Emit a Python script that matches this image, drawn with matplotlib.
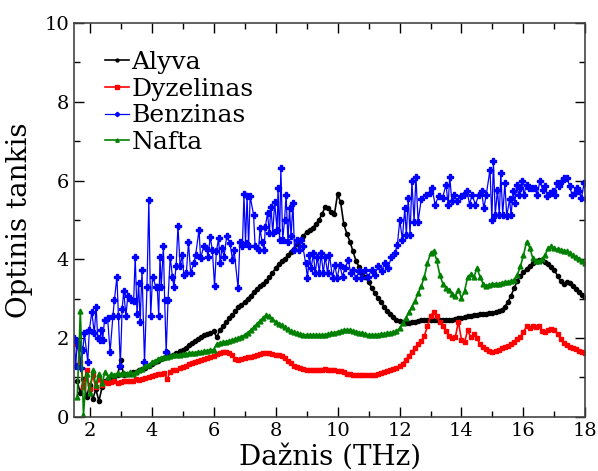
import numpy as np
import matplotlib
matplotlib.use("Agg")
import matplotlib.pyplot as plt
from matplotlib.ticker import MultipleLocator

# frequency grid for the smooth curves (THz)
freq = np.round(np.arange(1.6, 18.05, 0.1), 1)

alyva = [
    0.9, 0.6, 0.95, 0.5, 0.8, 0.45, 0.7, 0.4, 0.75, 0.9,
    0.95, 1.0, 1.0, 1.05, 1.45, 1.05, 1.1, 1.1, 1.15, 1.15,
    1.2, 1.22, 1.25, 1.3, 1.33, 1.38, 1.42, 1.46, 1.5, 1.65,
    1.55, 1.58, 1.62, 1.66, 1.7, 1.76, 1.82, 1.88, 1.93, 1.98,
    2.03, 2.07, 2.1, 2.14, 2.18, 2.02, 2.2, 2.3, 2.4, 2.5,
    2.58, 2.68, 2.78, 2.85, 2.92, 3.0, 3.08, 3.17, 3.25, 3.32,
    3.38, 3.45, 3.55, 3.65, 3.78, 3.88, 3.95, 4.02, 4.1, 4.18,
    4.26, 4.38, 4.5, 4.6, 4.7, 4.75, 4.8, 4.9, 5.0, 5.15,
    5.33, 5.3, 5.2, 5.15, 5.65, 5.45, 4.9, 4.65, 4.45, 4.2,
    3.95, 3.8, 3.68, 3.55, 3.42, 3.28, 3.14, 3.02, 2.92, 2.8,
    2.7, 2.6, 2.53, 2.47, 2.43, 2.4, 2.38, 2.38, 2.4, 2.42,
    2.44, 2.46, 2.46, 2.46, 2.46, 2.46, 2.46, 2.46, 2.46, 2.46,
    2.46, 2.47, 2.48, 2.5, 2.51, 2.53, 2.55, 2.57, 2.58, 2.59,
    2.6, 2.61, 2.62, 2.63, 2.64, 2.65, 2.68, 2.72, 2.8, 2.92,
    3.08, 3.27, 3.45, 3.58, 3.68, 3.76, 3.84, 3.9, 3.95, 3.99,
    3.98, 3.93, 3.87, 3.8, 3.72, 3.58, 3.45, 3.38, 3.42, 3.4,
    3.33, 3.24, 3.17, 3.1, 3.05,
]

dyzelinas = [
    1.85, 1.4, 0.75, 1.2, 0.7, 1.05, 0.75, 0.95, 0.8, 0.88,
    0.85, 0.88, 0.9, 0.86, 0.88, 0.9, 0.9, 0.92, 0.9, 0.95,
    0.93, 0.97, 0.98, 1.0, 1.03, 1.06, 1.08, 1.1, 1.12, 0.95,
    1.15, 1.18, 1.2, 1.23, 1.26, 1.3, 1.33, 1.36, 1.38, 1.42,
    1.45, 1.48, 1.5, 1.53, 1.55, 1.6, 1.63, 1.65, 1.65, 1.63,
    1.57, 1.48, 1.45, 1.48, 1.5, 1.52, 1.53, 1.55, 1.57, 1.6,
    1.62, 1.63, 1.62, 1.6, 1.58, 1.57, 1.55, 1.5, 1.43, 1.36,
    1.3, 1.26, 1.23, 1.21, 1.2, 1.2, 1.2, 1.18, 1.2, 1.2,
    1.21, 1.2, 1.19, 1.18, 1.17, 1.16, 1.13, 1.1, 1.08, 1.07,
    1.06, 1.06, 1.06, 1.06, 1.06, 1.06, 1.07, 1.09, 1.12, 1.15,
    1.17, 1.19, 1.22, 1.25, 1.28, 1.35, 1.45, 1.55, 1.65, 1.75,
    1.85, 1.93, 2.05, 2.3, 2.55, 2.67, 2.55, 2.4, 2.3, 2.18,
    2.06, 2.0, 2.02, 2.42, 1.95, 1.9, 2.2, 2.02, 2.1, 2.0,
    1.85, 1.78, 1.72, 1.67, 1.65, 1.66, 1.7, 1.74, 1.77, 1.8,
    1.85, 1.9, 1.97, 2.04, 2.15, 2.3, 2.25, 2.3, 2.28, 2.3,
    2.18, 2.15, 2.2, 2.22, 2.2, 2.1, 1.98, 1.87, 1.82, 1.78,
    1.75, 1.72, 1.68, 1.65, 1.61,
]

nafta = [
    0.5, 2.7, 0.05, 1.1, 0.6, 1.2, 0.8, 1.1, 0.85, 1.15,
    1.0, 1.1, 1.05, 1.12, 1.08, 1.12, 1.1, 1.13, 1.1, 1.15,
    1.18, 1.22, 1.3, 1.32, 1.38, 1.42, 1.47, 1.5, 1.52, 1.53,
    1.55, 1.56, 1.57, 1.58, 1.59, 1.6, 1.61, 1.62, 1.63, 1.64,
    1.65, 1.66, 1.68, 1.7, 1.71, 1.85, 1.87, 1.89, 1.91, 1.93,
    1.95, 1.97, 2.0, 2.04, 2.08, 2.14, 2.2, 2.28, 2.36, 2.44,
    2.52, 2.58, 2.55, 2.48, 2.42, 2.37, 2.32, 2.27, 2.22, 2.18,
    2.15, 2.12, 2.1, 2.09, 2.08, 2.08, 2.08, 2.08, 2.08, 2.08,
    2.09, 2.1, 2.12, 2.14, 2.16, 2.18, 2.2, 2.21, 2.2, 2.18,
    2.16, 2.14, 2.12, 2.1, 2.09, 2.08, 2.08, 2.09, 2.1, 2.11,
    2.12, 2.13, 2.15, 2.17, 2.25, 2.38, 2.5, 2.65, 2.8, 2.95,
    3.14, 3.32, 3.55, 3.9, 4.15, 4.22, 3.98, 3.6, 3.38, 3.28,
    3.22, 3.12, 3.06, 3.22, 3.02, 3.2, 3.55, 3.62, 3.55, 3.78,
    3.55, 3.38, 3.33, 3.35, 3.37, 3.38, 3.38, 3.4, 3.42, 3.43,
    3.44, 3.48, 3.6, 3.82, 4.1, 4.45, 4.3, 4.03, 3.95, 3.97,
    4.0, 4.12, 4.28, 4.33, 4.28, 4.25, 4.24, 4.22, 4.2, 4.15,
    4.1, 4.06, 4.02, 3.97, 3.9,
]

# Benzinas is noisy, read point by point
benz_x = [
    1.5, 1.55, 1.6, 1.67, 1.72, 1.78, 1.83, 1.94, 1.99, 2.07,
    2.15, 2.21, 2.26, 2.32, 2.38, 2.42, 2.48, 2.58, 2.66, 2.75,
    2.8, 2.88, 2.93, 2.99, 3.05, 3.1, 3.17, 3.23, 3.32, 3.42,
    3.47, 3.53, 3.58, 3.63, 3.69, 3.77, 3.85, 3.91, 3.97, 4.03,
    4.14, 4.18, 4.23, 4.27, 4.31, 4.38, 4.42, 4.47, 4.53, 4.6,
    4.67, 4.72, 4.79, 4.85, 4.92, 4.99, 5.04, 5.12, 5.19, 5.26,
    5.36, 5.42, 5.53, 5.58, 5.69, 5.77, 5.82, 5.89, 5.96, 6.03,
    6.09, 6.16, 6.21, 6.27, 6.34, 6.42, 6.53, 6.61, 6.66, 6.79,
    6.85, 6.93, 6.98, 7.03, 7.08, 7.13, 7.18, 7.29, 7.34, 7.45,
    7.5, 7.56, 7.63, 7.67, 7.74, 7.8, 7.85, 7.91, 7.97, 8.05,
    8.08, 8.13, 8.17, 8.23, 8.29, 8.34, 8.4, 8.45, 8.5, 8.56,
    8.61, 8.69, 8.75, 8.83, 8.88, 8.97, 9.03, 9.09, 9.15, 9.22,
    9.28, 9.35, 9.41, 9.47, 9.54, 9.6, 9.68, 9.74, 9.84, 9.91,
    9.99, 10.07, 10.16, 10.24, 10.35, 10.42, 10.5, 10.59, 10.7, 10.77,
    10.88, 10.99, 11.1, 11.2, 11.31, 11.42, 11.52, 11.63, 11.74, 11.85,
    11.93, 12.01, 12.09, 12.17, 12.22, 12.28, 12.34, 12.4, 12.47, 12.53,
    12.6, 12.7, 12.86, 12.97, 13.05, 13.15, 13.26, 13.39, 13.5, 13.57,
    13.62, 13.69, 13.76, 13.86, 13.97, 14.08, 14.18, 14.26, 14.34, 14.45,
    14.56, 14.65, 14.72, 14.8, 14.92, 14.98, 15.03, 15.09, 15.16, 15.22,
    15.27, 15.33, 15.4, 15.46, 15.55, 15.6, 15.67, 15.72, 15.78, 15.84,
    15.9, 15.96, 16.01, 16.1, 16.18, 16.26, 16.37, 16.44, 16.53, 16.62,
    16.69, 16.77, 16.86, 16.94, 17.02, 17.07, 17.15, 17.25, 17.32, 17.41,
    17.49, 17.57, 17.65, 17.72, 17.79, 17.87, 17.96, 18.01,
]
benzinas = [
    2.0, 1.3, 1.9, 1.78, 1.25, 1.7, 2.12, 1.4, 2.2, 2.67,
    2.12, 2.8, 2.0, 1.95, 2.2, 1.95, 2.46, 2.5, 1.65, 2.55,
    2.97, 3.56, 2.55, 1.3, 2.75, 3.2, 2.55, 3.07, 2.97, 2.93,
    4.06, 2.6, 3.4, 2.42, 3.73, 1.38, 3.3, 5.51, 2.55, 3.56,
    3.3, 3.31, 2.55, 4.07, 3.3, 4.33, 2.97, 1.65, 2.97, 4.07,
    3.56, 3.3, 3.82, 4.85, 3.82, 4.11, 3.6, 3.65, 4.43, 3.65,
    3.9, 4.11, 4.75, 4.03, 4.35, 4.28, 4.07, 4.56, 4.24, 3.33,
    4.2, 4.53, 3.9, 4.28, 4.07, 4.58, 4.41, 3.99, 4.24, 3.27,
    4.45, 4.33, 5.65, 4.41, 5.6, 4.33, 5.6, 5.13, 4.33, 4.24,
    4.79, 4.45, 4.24, 4.83, 5.17, 4.66, 5.34, 4.66, 5.45, 4.75,
    5.81, 4.49, 6.32, 4.49, 5.0, 5.64, 4.45, 5.3, 4.58, 5.43,
    4.24, 4.49, 4.24, 4.49, 4.33, 3.9, 3.52, 4.11, 3.78, 4.15,
    3.65, 4.07, 3.65, 4.15, 3.65, 4.07, 3.65, 4.11, 3.52, 3.86,
    3.52, 3.86, 3.56, 3.78, 3.99, 3.65, 3.73, 3.52, 3.7, 3.52,
    3.73, 3.56, 3.73, 3.61, 3.82, 3.7, 3.9, 3.78, 4.07, 4.15,
    4.37, 5.0, 4.5, 5.3, 4.62, 5.56, 4.62, 5.98, 4.96, 6.1,
    4.96, 5.52, 5.64, 5.68, 5.81, 5.39, 5.6, 5.56, 5.9, 5.39,
    6.1, 5.47, 5.64, 5.47, 5.6, 5.64, 5.73, 5.39, 5.64, 5.39,
    5.64, 5.73, 5.3, 5.64, 6.28, 5.0, 6.49, 5.13, 5.77, 5.13,
    6.18, 5.13, 5.94, 5.09, 5.52, 5.13, 5.73, 5.43, 5.9, 5.64,
    5.81, 6.0, 5.64, 5.9, 5.81, 5.81, 5.81, 5.64, 5.98, 5.77,
    5.85, 5.6, 5.68, 5.73, 5.64, 5.94, 5.85, 5.98, 6.06, 6.06,
    5.85, 5.64, 5.68, 5.81, 5.73, 5.56, 5.94, 5.52,
]

plt.rcParams["font.family"] = "DejaVu Serif"

fig = plt.figure(figsize=(5.98, 4.71), dpi=100)
ax = fig.add_axes([0.124, 0.115, 0.855, 0.836])

ax.plot(freq, alyva, color="black", marker="o", ms=3, lw=1.2, label="Alyva")
ax.plot(freq, dyzelinas, color="red", marker="s", ms=3.5, lw=1.2, label="Dyzelinas")
ax.plot(benz_x, benzinas, color="blue", marker="P", ms=4, lw=0.9, label="Benzinas")
ax.plot(freq, nafta, color="green", marker="^", ms=3.5, lw=1.2, label="Nafta")

ax.set_xlim(1.5, 18)
ax.set_ylim(0, 10)
ax.xaxis.set_major_locator(MultipleLocator(2))
ax.xaxis.set_minor_locator(MultipleLocator(1))
ax.yaxis.set_major_locator(MultipleLocator(2))
ax.yaxis.set_minor_locator(MultipleLocator(1))
ax.tick_params(which="both", direction="in", top=True, right=True, labelsize=14)
ax.tick_params(which="major", length=7, width=1)
ax.tick_params(which="minor", length=4, width=1)
for s in ax.spines.values():
    s.set_color("#444444")
    s.set_linewidth(1.2)

ax.set_xlabel("Dažnis (THz)", fontsize=20, labelpad=3)
ax.set_ylabel("Optinis tankis", fontsize=20, labelpad=8)

ax.legend(loc="upper left", bbox_to_anchor=(0.041, 0.955), frameon=False,
          fontsize=18, handlelength=0.95, handletextpad=0.1, labelspacing=0.15,
          markerscale=0.7, borderaxespad=0)

fig.savefig("out.png", dpi=100)
